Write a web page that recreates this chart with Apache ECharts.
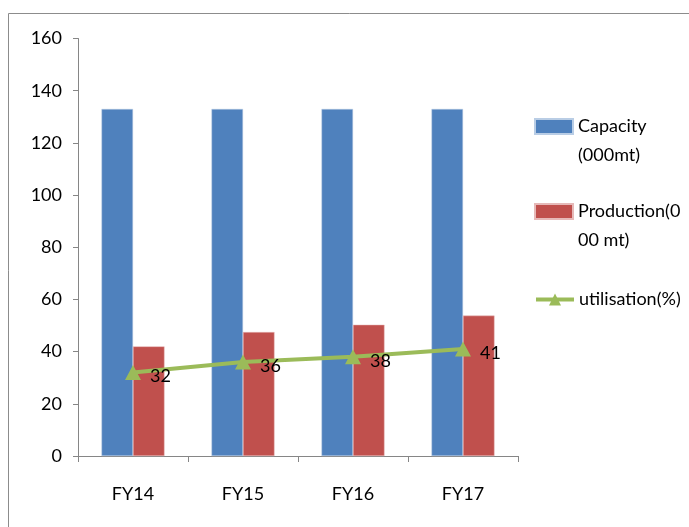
<!DOCTYPE html>
<html>
<head>
<meta charset="utf-8">
<script src="https://cdn.jsdelivr.net/npm/echarts@6/dist/echarts.min.js"></script>
<style>
  html, body { margin: 0; padding: 0; background: #fff; }
  #chart { width: 689px; height: 527px; }
</style>
</head>
<body>
<div id="chart"></div>
<script>
// Plant capacity, production and utilisation by fiscal year
const categories = ['FY14', 'FY15', 'FY16', 'FY17'];
const capacity = [133, 133, 133, 133];
const production = [42, 47.5, 50.3, 53.8];
const utilisation = [32, 36, 38, 41];
const yTicks = { min: 0, max: 160, interval: 20 };

const FONT = '"Liberation Sans Narrow", "Lato", sans-serif';
const AXIS_GREY = '#868686';

// Wrapped legend captions; a leading blank line keeps the icon level with the first text line
const legendCaptions = {
  'Capacity (000mt)': '\nCapacity\n(000mt)',
  'Production(000 mt)': '\nProduction(0\n00 mt)',
  'utilisation(%)': 'utilisation(%)'
};

const chart = echarts.init(document.getElementById('chart'), null, { renderer: 'canvas' });

function legendBlock(name, top, icon) {
  const block = {
    top: top,
    left: 529,
    orient: 'vertical',
    itemWidth: 38,
    itemHeight: 15,
    itemGap: 0,
    data: [name],
    textStyle: {
      fontFamily: FONT,
      fontSize: 18,
      color: '#000',
      lineHeight: 29
    },
    formatter: function (n) { return legendCaptions[n]; }
  };
  if (icon) block.icon = icon;
  else block.lineStyle = { width: 4 };
  return block;
}

chart.setOption({
  animation: false,
  backgroundColor: '#fff',
  textStyle: { fontFamily: FONT },
  graphic: [{
    type: 'rect',
    shape: { x: 8.5, y: 13.5, width: 720, height: 600 },
    style: { fill: 'none', stroke: '#8c8c8c', lineWidth: 1 },
    silent: true
  }],
  grid: { left: 78, right: 171, top: 38.5, bottom: 71, containLabel: false },
  legend: [
    legendBlock('Capacity (000mt)', 78, 'rect'),
    legendBlock('Production(000 mt)', 163, 'rect'),
    legendBlock('utilisation(%)', 280, null)
  ],
  xAxis: {
    type: 'category',
    data: categories,
    boundaryGap: true,
    axisLine: { lineStyle: { color: AXIS_GREY, width: 1 } },
    axisTick: { show: true, length: 6, alignWithLabel: false, lineStyle: { color: AXIS_GREY } },
    axisLabel: { color: '#000', fontSize: 18, fontFamily: FONT, margin: 29 },
    splitLine: { show: false }
  },
  yAxis: {
    type: 'value',
    min: yTicks.min,
    max: yTicks.max,
    interval: yTicks.interval,
    axisLine: { show: true, lineStyle: { color: AXIS_GREY, width: 1 } },
    axisTick: { show: true, length: 5, inside: false, lineStyle: { color: AXIS_GREY } },
    axisLabel: { color: '#000', fontSize: 18, fontFamily: FONT, margin: 16 },
    splitLine: { show: false }
  },
  series: [
    {
      name: 'Capacity (000mt)',
      type: 'bar',
      data: capacity,
      barWidth: 31.5,
      barGap: '0%',
      itemStyle: { color: '#4F81BD', borderColor: '#b9cde5', borderWidth: 0.5 }
    },
    {
      name: 'Production(000 mt)',
      type: 'bar',
      data: production,
      barWidth: 31.5,
      barGap: '0%',
      itemStyle: { color: '#C0504D', borderColor: '#e6b9b8', borderWidth: 0.5 }
    },
    {
      name: 'utilisation(%)',
      type: 'line',
      data: utilisation,
      symbol: 'triangle',
      symbolSize: [16, 15],
      lineStyle: { color: '#9BBB59', width: 4 },
      itemStyle: { color: '#9BBB59' },
      label: {
        show: true,
        position: 'right',
        distance: 9,
        offset: [0, 4],
        color: '#000',
        fontSize: 18,
        fontFamily: FONT
      },
      z: 5
    }
  ]
});
</script>
</body>
</html>
